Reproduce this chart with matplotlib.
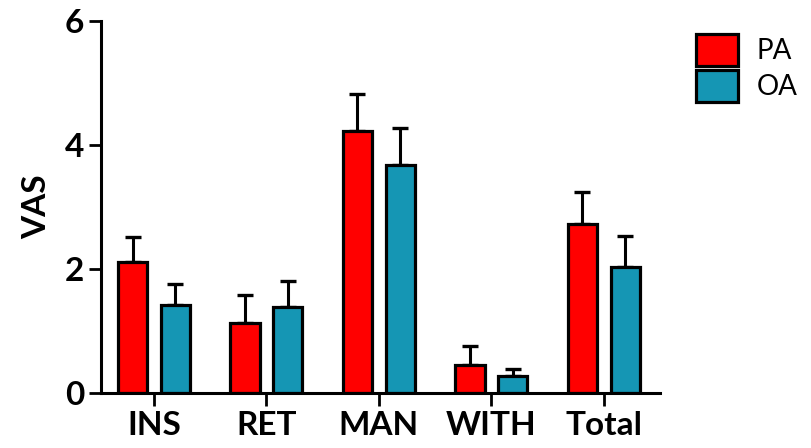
import matplotlib
matplotlib.use("Agg")
import matplotlib.pyplot as plt
import numpy as np
from matplotlib.patches import Patch

categories = ["INS", "RET", "MAN", "WITH", "Total"]
pa_mean = [2.11, 1.13, 4.23, 0.45, 2.73]
pa_err = [0.41, 0.45, 0.59, 0.30, 0.51]
oa_mean = [1.42, 1.39, 3.67, 0.27, 2.04]
oa_err = [0.34, 0.42, 0.60, 0.11, 0.49]
series_names = ["PA", "OA"]
colors = ["#FF0000", "#1596B4"]
yticks = [0, 2, 4, 6]

plt.rcParams['font.family'] = ['Lato', 'DejaVu Sans']

fig = plt.figure(figsize=(8.12, 4.48), dpi=100)
ax = fig.add_axes([0.1244, 0.1228, 0.8128 - 0.1244, 0.953 - 0.1228])

x = np.arange(len(categories))
w = 0.26
off = 0.19
for i, (m, e) in enumerate([(pa_mean, pa_err), (oa_mean, oa_err)]):
    xs = x + (-off if i == 0 else off)
    ax.errorbar(xs, m, yerr=[np.zeros(len(e)), e], fmt='none', ecolor='black',
                elinewidth=2.2, capsize=6, capthick=2.4, zorder=1)
    ax.bar(xs, m, width=w, color=colors[i], edgecolor='black', linewidth=2.3,
           zorder=2, label=series_names[i])

ax.set_xlim(-0.47, 4.5)
ax.set_ylim(0, 6)
ax.set_yticks(yticks)
ax.set_xticks(x)
ax.set_xticklabels(categories, fontsize=24, fontweight='bold')
ax.set_yticklabels([str(t) for t in yticks], fontsize=24, fontweight='bold')
for s in ['top', 'right']:
    ax.spines[s].set_visible(False)
for s in ['left', 'bottom']:
    ax.spines[s].set_linewidth(2.2)
ax.tick_params(axis='y', length=9, width=2, pad=3)
ax.tick_params(axis='x', length=9, width=2, pad=4)
ax.set_ylabel("VAS", fontsize=24, fontweight='bold', labelpad=10)

handles = [Patch(facecolor=colors[i], edgecolor='black', linewidth=2.3) for i in range(2)]
fig.legend(handles, series_names, loc='upper left', bbox_to_anchor=(0.857, 0.925),
           frameon=False, fontsize=20, handlelength=1.5, handleheight=1.4,
           handletextpad=0.7, labelspacing=0.15, borderaxespad=0, borderpad=0)

fig.savefig("out.png", dpi=100)
